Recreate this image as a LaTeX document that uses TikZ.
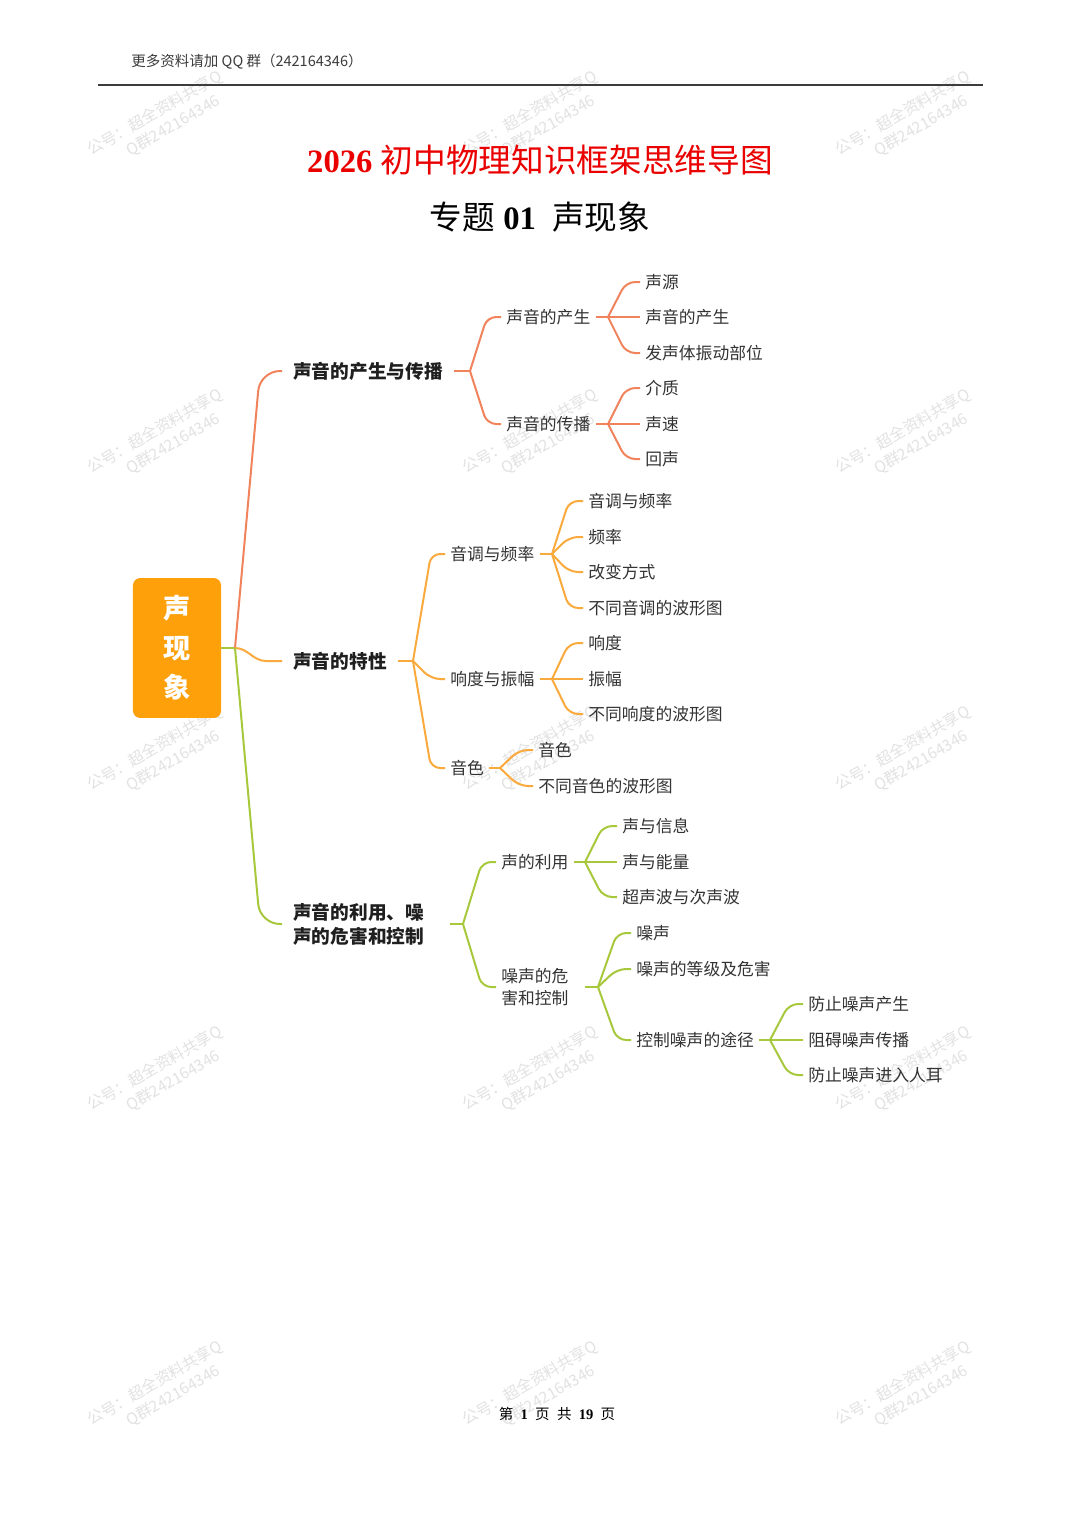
\documentclass[tikz,border=0pt]{standalone}
\usepackage{fontspec}
\setmainfont{Liberation Serif}
\newfontfamily\cjk{Noto Sans CJK SC}
\usetikzlibrary{calc}
\definecolor{cA}{RGB}{241,131,92}
\definecolor{cB}{RGB}{250,170,60}
\definecolor{cC}{RGB}{168,200,60}
\definecolor{rootfill}{RGB}{253,160,10}
\definecolor{titlered}{RGB}{235,0,0}
\definecolor{txt}{RGB}{51,51,51}
\definecolor{wmgray}{RGB}{226,226,226}
\definecolor{hdr}{RGB}{60,60,60}
\tikzset{
  item/.style={anchor=west, inner xsep=2.75pt, inner ysep=1pt, text=txt, font=\cjk\fontsize{9.25}{12.1}\selectfont},
  lvlone/.style={anchor=west, inner xsep=6pt, inner ysep=1pt, text=black!88, font=\cjk\bfseries\fontsize{10.3}{13.2}\selectfont},
  lw/.style={line width=1.1pt},
  br/.style={line width=1.1pt, rounded corners=5pt},
  wm/.style={rotate=30, align=center, text=wmgray, font=\cjk\fontsize{8.6}{11}\selectfont},
}
\begin{document}
\begin{tikzpicture}[x=0.551pt,y=-0.551pt]
\useasboundingbox (0,0) rectangle (1080,1527);
\fill[white] (0,0) rectangle (1080,1527);

% watermarks
\foreach \wx/\wy [count=\i] in {160/122,535/122,908/122,160/440,535/440,908/440,160/757,535/757,908/757,160/1077,535/1077,908/1077,160/1392,535/1392,908/1392}
  \node[wm] (wm\i) at (\wx,\wy) {公号：超全资料共享Q\\\hspace*{1.2em}Q群242164346};

% header
\node[anchor=west, inner sep=0pt, text=hdr, font=\cjk\fontsize{8}{10}\selectfont] (hdrtext) at (131,62) {更多资料请加 QQ 群（242164346）};
\coordinate (hl) at (98,85);
\coordinate (hr) at (983,85);
\draw[hdr, line width=0.8pt] (hl) -- (hr);

% titles
\node[text=titlered, inner sep=0pt, font=\fontsize{18}{20}\selectfont] (title) at (540,160) {\textbf{2026} {\cjk 初中物理知识框架思维导图}};
\node[text=black, inner sep=0pt, font=\fontsize{18}{20}\selectfont] (subtitle) at (540,217) {{\cjk 专题} \textbf{01}\ \ {\cjk 声现象}};

% root
\node[fill=rootfill, rounded corners=4pt, minimum width=48.5pt, minimum height=77.1pt, align=center, text=white, font=\cjk\bfseries\fontsize{15}{21.8}\selectfont] (root) at (177,648) {声\\现\\象};

% level 1
\node[lvlone] (L1a) at (282,371) {声音的产生与传播};
\node[lvlone] (L1b) at (282,661) {声音的特性};
\node[lvlone, text width=80pt, align=left] (L1c) at (282,924) {声音的利用、噪\\声的危害和控制};

% branch A
\node[item] (A1) at (501,317) {声音的产生};
\node[item] (A2) at (501,424) {声音的传播};
\node[item] (A11) at (640,282) {声源};
\node[item] (A12) at (640,317) {声音的产生};
\node[item] (A13) at (640,353) {发声体振动部位};
\node[item] (A21) at (640,388) {介质};
\node[item] (A22) at (640,424) {声速};
\node[item] (A23) at (640,459) {回声};

% branch B
\node[item] (B1) at (445,554) {音调与频率};
\node[item] (B2) at (445,679) {响度与振幅};
\node[item] (B3) at (445,768) {音色};
\node[item] (B11) at (583,501) {音调与频率};
\node[item] (B12) at (583,537) {频率};
\node[item] (B13) at (583,572) {改变方式};
\node[item] (B14) at (583,608) {不同音调的波形图};
\node[item] (B21) at (583,643) {响度};
\node[item] (B22) at (583,679) {振幅};
\node[item] (B23) at (583,714) {不同响度的波形图};
\node[item] (B31) at (533,750) {音色};
\node[item] (B32) at (533,786) {不同音色的波形图};

% branch C
\node[item] (C1) at (496,862) {声的利用};
\node[item, text width=43pt, align=left] (C2) at (496,987) {噪声的危\\害和控制};
\node[item] (C11) at (617,826) {声与信息};
\node[item] (C12) at (617,862) {声与能量};
\node[item] (C13) at (617,897) {超声波与次声波};
\node[item] (C21) at (631,933) {噪声};
\node[item] (C22) at (631,969) {噪声的等级及危害};
\node[item] (C23) at (631,1040) {控制噪声的途径};
\node[item] (C231) at (803,1004) {防止噪声产生};
\node[item] (C232) at (803,1040) {阻碍噪声传播};
\node[item] (C233) at (803,1075) {防止噪声进入人耳};

% junctions
\coordinate (J0) at (235,648);
\coordinate (JA) at (470,371);
\coordinate (JA1) at (608,317);
\coordinate (JA2) at (608,424);
\coordinate (JB) at (413,661);
\coordinate (JB1) at (552,554);
\coordinate (JB2) at (552,679);
\coordinate (JB3) at (500,768);
\coordinate (JC) at (463,924);
\coordinate (JC1) at (585,862);
\coordinate (JC2) at (598,987);
\coordinate (JC23) at (770,1040);

% root connectors
\draw[cC, lw] (root.east) -- (J0);
\draw[cA, lw, rounded corners=11pt] (J0) -- ($(L1a.west)+(-22,0)$) -- (L1a.west);
\draw[cB, lw] (J0) to[out=0,in=180] ($(L1b.west)+(-16,0)$) -- (L1b.west);
\draw[cC, lw, rounded corners=11pt] (J0) -- ($(L1c.west)+(-22,0)$) -- (L1c.west);

% branch A connectors
\draw[cA, lw] (L1a.east) -- (JA);
\foreach \c in {A1,A2} \draw[cA, br] (JA) -- ($(\c.west)+(-14,0)$) -- (\c.west);
\draw[cA, lw] (A1.east) -- (JA1);
\foreach \c in {A11,A12,A13} \draw[cA, br] (JA1) -- ($(\c.west)+(-14,0)$) -- (\c.west);
\draw[cA, lw] (A2.east) -- (JA2);
\foreach \c in {A21,A22,A23} \draw[cA, br] (JA2) -- ($(\c.west)+(-14,0)$) -- (\c.west);

% branch B connectors
\draw[cB, lw] (L1b.east) -- (JB);
\foreach \c in {B1,B2,B3} \draw[cB, br] (JB) -- ($(\c.west)+(-14,0)$) -- (\c.west);
\draw[cB, lw] (B1.east) -- (JB1);
\foreach \c in {B11,B12,B13,B14} \draw[cB, br] (JB1) -- ($(\c.west)+(-14,0)$) -- (\c.west);
\draw[cB, lw] (B2.east) -- (JB2);
\foreach \c in {B21,B22,B23} \draw[cB, br] (JB2) -- ($(\c.west)+(-14,0)$) -- (\c.west);
\draw[cB, lw] (B3.east) -- (JB3);
\foreach \c in {B31,B32} \draw[cB, br] (JB3) -- ($(\c.west)+(-14,0)$) -- (\c.west);

% branch C connectors
\draw[cC, lw] (L1c.east) -- (JC);
\foreach \c in {C1,C2} \draw[cC, br] (JC) -- ($(\c.west)+(-14,0)$) -- (\c.west);
\draw[cC, lw] (C1.east) -- (JC1);
\foreach \c in {C11,C12,C13} \draw[cC, br] (JC1) -- ($(\c.west)+(-14,0)$) -- (\c.west);
\draw[cC, lw] (C2.east) -- (JC2);
\foreach \c in {C21,C22,C23} \draw[cC, br] (JC2) -- ($(\c.west)+(-14,0)$) -- (\c.west);
\draw[cC, lw] (C23.east) -- (JC23);
\foreach \c in {C231,C232,C233} \draw[cC, br] (JC23) -- ($(\c.west)+(-14,0)$) -- (\c.west);

% footer
\node[inner sep=0pt, text=black, font=\fontsize{8}{10}\selectfont] (footer) at (557,1414) {{\cjk 第}\ \ \textbf{1}\ \ {\cjk 页}\ \ {\cjk 共}\ \ \textbf{19}\ \ {\cjk 页}};
\end{tikzpicture}
\end{document}
